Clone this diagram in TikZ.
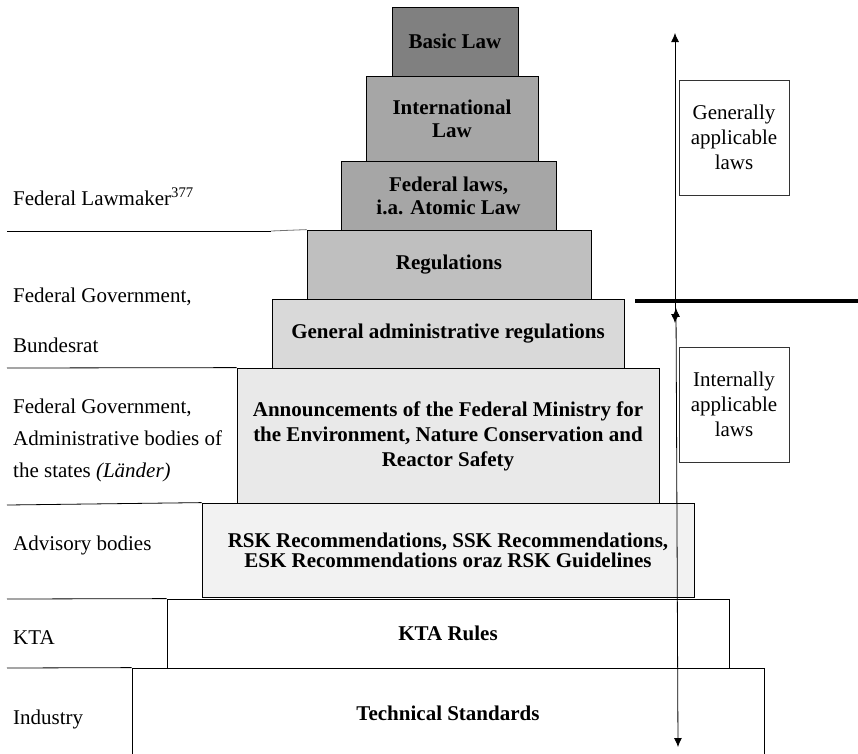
\documentclass[tikz,border=0pt]{standalone}
\usepackage{fontspec}
\setmainfont{Liberation Serif}
\usetikzlibrary{arrows.meta}
\definecolor{g1}{RGB}{128,128,128}
\definecolor{g2}{RGB}{166,166,166}
\definecolor{g3}{RGB}{191,191,191}
\definecolor{g4}{RGB}{217,217,217}
\definecolor{g5}{RGB}{233,233,233}
\definecolor{g6}{RGB}{242,242,242}
\begin{document}
\begin{tikzpicture}[x=1pt,y=-1pt,
  tier/.style={draw=black, line width=0.8pt, inner sep=0pt, align=center, font=\fontsize{21}{23}\selectfont\bfseries},
  lbl/.style={anchor=base west, inner sep=0pt, font=\fontsize{21}{24}\selectfont},
  note/.style={draw=black!80, line width=0.8pt, inner sep=0pt, align=center, minimum width=110pt, minimum height=115pt, font=\fontsize{21}{25}\selectfont},
  sepline/.style={line width=0.8pt},
  dbl/.style={line width=0.8pt, {Latex[length=9pt,width=8pt]}-{Latex[length=9pt,width=8pt]}}
]
\useasboundingbox (0,0) rectangle (858,753);
% pyramid tiers
\node[tier, fill=g1, minimum width=126pt, minimum height=69pt] (basic) at (455,41.5) {Basic Law};
\node[tier, fill=g2, minimum width=172pt, minimum height=85pt] (intl) at (452,118.5) {International\\Law};
\node[tier, fill=g2, minimum width=215pt, minimum height=69pt] (fed) at (448.5,195.5) {Federal laws,\\i.a. Atomic Law};
\node[tier, fill=g3, minimum width=284pt, minimum height=69pt] (reg) at (449,264.5) {Regulations};
\node[tier, fill=g4, minimum width=352pt, minimum height=69pt] (gen) at (448,333.5) {General administrative regulations};
\node[tier, fill=g5, minimum width=422pt, minimum height=137pt, font=\fontsize{21}{25}\selectfont\bfseries] (ann) at (448,436.5) {Announcements of the Federal Ministry for\\the Environment, Nature Conservation and\\Reactor Safety};
\node[tier, fill=g6, minimum width=492pt, minimum height=94pt, font=\fontsize{21}{20}\selectfont\bfseries] (rsk) at (448,550) {RSK Recommendations, SSK Recommendations,\\ESK Recommendations oraz RSK Guidelines};
\node[tier, fill=white, minimum width=562pt, minimum height=69pt] (kta) at (448,633.5) {\raisebox{-3pt}{KTA Rules}};
\node[tier, fill=white, minimum width=632pt, minimum height=102pt] (tech) at (448,719) {\raisebox{12pt}{Technical Standards}};
% left separators
\draw[sepline] (7,231) -- (271,231);
\draw[sepline, black!55] (271,231) -- (reg.north west);
\draw[sepline] (7,368) -- (ann.north west);
\draw[sepline] (7,505) -- (rsk.north west);
\draw[sepline] (7,599) -- (kta.north west);
\draw[sepline] (7,668) -- (tech.north west);
% left labels
\node[lbl] (lawmaker) at (13,205) {Federal Lawmaker\textsuperscript{377}};
\node[lbl] (fg1) at (13,302) {Federal Government,};
\node[lbl] (bundesrat) at (13,352) {Bundesrat};
\node[lbl] (fg2) at (13,413) {Federal Government,};
\node[lbl] (admin) at (13,445) {Administrative bodies of};
\node[lbl] (states) at (13,477) {the states \textit{(Länder)}};
\node[lbl] (advisory) at (13,550) {Advisory bodies};
\node[lbl] (ktal) at (13,644) {KTA};
\node[lbl] (industry) at (13,724) {Industry};
% right side
\node[note] (general) at (734,137.5) {Generally\\applicable\\laws};
\node[note] (internal) at (734,404.5) {Internally\\applicable\\laws};
\coordinate (atop) at (675,33);
\coordinate (abot) at (675,323);
\coordinate (btop) at (676,308);
\coordinate (bbot) at (678,747);
\draw[line width=4pt] (635,301) -- (858,301);
\draw[dbl] (abot) -- (atop);
\draw[dbl] (btop) -- (bbot);
\end{tikzpicture}
\end{document}
